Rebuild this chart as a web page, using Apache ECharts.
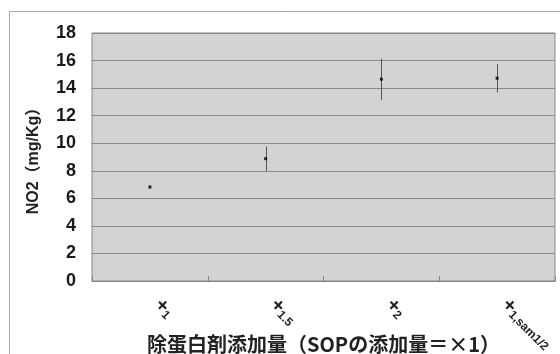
<!DOCTYPE html>
<html>
<head>
<meta charset="utf-8">
<script src="https://cdn.jsdelivr.net/npm/echarts@6/dist/echarts.min.js"></script>
<style>
  html, body { margin: 0; padding: 0; background: #fff; }
  #chart { width: 560px; height: 354px; }
</style>
</head>
<body>
<div id="chart"></div>
<script>
// Categories: additive level, written as "+" with a subscript part
const categoryMain = ['+', '+', '+', '+'];
const categorySub = ['1', '1.5', '2', '1,sam1/2'];

// NO2 content (mg/Kg): mean and error half-width per category
const meanValues = [6.82, 8.88, 14.65, 14.72];
const errorValues = [0.1, 0.9, 1.5, 1.03];

// Value-axis ticks
const yTicks = [0, 2, 4, 6, 8, 10, 12, 14, 16, 18];

const categories = categoryMain.map((m, i) => m + '|' + categorySub[i]);

const chart = echarts.init(document.getElementById('chart'));

const latinFont = '"Liberation Sans", "Noto Sans CJK JP", sans-serif';

chart.setOption({
  animation: false,
  backgroundColor: '#ffffff',
  graphic: [{
    type: 'rect',
    shape: { x: 9.5, y: 11.5, width: 600, height: 400 },
    style: { fill: 'none', stroke: '#a8a8a8', lineWidth: 1 },
    silent: true,
    z: -10
  }],
  grid: {
    left: 92, right: 5, top: 33, bottom: 73,
    containLabel: false,
    outerBoundsMode: 'none',
    show: true,
    backgroundColor: '#d3d3d3',
    borderColor: '#878787',
    borderWidth: 1
  },
  xAxis: {
    type: 'category',
    data: categories,
    boundaryGap: true,
    axisLine: { show: true, lineStyle: { color: '#878787', width: 1 } },
    axisTick: { show: true, inside: true, length: 5, lineStyle: { color: '#878787' } },
    axisLabel: {
      rotate: -45,
      margin: 13,
      interval: 0,
      formatter: function (v) {
        const parts = v.split('|');
        return '{p|' + parts[0] + '}{s|' + parts[1] + '}';
      },
      rich: {
        p: { fontSize: 20, fontWeight: 'bold', color: '#222', fontFamily: latinFont,
             padding: [0, 0, 0, 11], verticalAlign: 'top', lineHeight: 20 },
        s: { fontSize: 12, fontWeight: 'bold', color: '#222', fontFamily: latinFont,
             verticalAlign: 'bottom', lineHeight: 12, padding: [10, 0, 0, 0] }
      }
    },
    name: '除蛋白剤添加量（SOPの添加量＝×1）',
    nameLocation: 'middle',
    nameGap: 53,
    nameMoveOverlap: false,
    nameTextStyle: {
      fontSize: 20, fontWeight: 'bold', color: '#222',
      fontFamily: '"Noto Sans CJK JP", sans-serif'
    },
    splitLine: { show: false }
  },
  yAxis: {
    type: 'value',
    min: yTicks[0],
    max: yTicks[yTicks.length - 1],
    interval: yTicks[1] - yTicks[0],
    axisLine: { show: false },
    axisTick: { show: false },
    axisLabel: {
      margin: 16,
      fontSize: 18,
      fontWeight: 'bold',
      color: '#1a1a1a',
      fontFamily: latinFont
    },
    splitLine: { show: true, lineStyle: { color: '#8a8a8a', width: 1 } },
    name: 'NO2（mg/Kg）',
    nameLocation: 'middle',
    nameGap: 50,
    nameRotate: 90,
    nameMoveOverlap: false,
    nameTextStyle: {
      fontSize: 16, fontWeight: 'bold', color: '#222',
      fontFamily: latinFont
    }
  },
  series: [
    {
      type: 'custom',
      name: 'error',
      data: meanValues.map((m, i) => [i, m - errorValues[i], m + errorValues[i]]),
      renderItem: function (params, api) {
        const lo = api.coord([api.value(0), api.value(1)]);
        const hi = api.coord([api.value(0), api.value(2)]);
        const x = Math.round(lo[0]) + 0.5;
        return {
          type: 'line',
          shape: { x1: x, y1: lo[1], x2: x, y2: hi[1] },
          style: { stroke: '#555555', lineWidth: 1 }
        };
      },
      z: 2
    },
    {
      type: 'scatter',
      name: 'mean',
      data: meanValues.map((m, i) => [i, m]),
      symbol: 'rect',
      symbolSize: 3,
      itemStyle: { color: '#000000' },
      z: 3
    }
  ]
});
</script>
</body>
</html>
